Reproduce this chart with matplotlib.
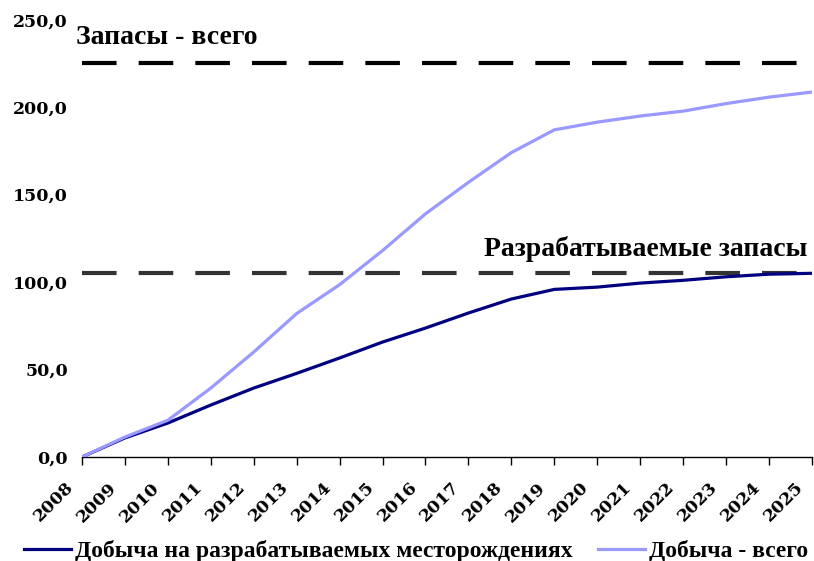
import matplotlib
matplotlib.use("Agg")
from matplotlib import pyplot as plt
from matplotlib.transforms import ScaledTranslation

years = list(range(2008, 2026))
developed = [0, 10.9, 19.4, 29.7, 39.4, 47.8, 56.6, 65.7, 73.7, 82.3, 90.3,
             95.8, 97.1, 99.4, 101.0, 103.0, 104.5, 105.0]
total = [0, 11.4, 21.0, 39.4, 60.0, 82.0, 98.5, 118.0, 139.0, 157.0, 174.0,
         187.0, 191.4, 194.9, 197.7, 202.0, 205.7, 208.6]
reserves_total = 225
reserves_developed = 105
ytick_vals = [0, 50, 100, 150, 200, 250]

fig = plt.figure(figsize=(8.14, 5.61), dpi=100)
ax = fig.add_axes([0.1007, 0.1854, 0.8968, 0.7796])

ax.plot(years, developed, color="#000080", linewidth=2.3, zorder=3,
        label="Добыча на разрабатываемых месторождениях")
ax.plot(years, total, color="#9999ff", linewidth=2.3, zorder=3,
        label="Добыча - всего")

ax.plot([years[0], years[-1]], [reserves_total] * 2, color="black",
        linewidth=3, dashes=(8.3, 5.3), zorder=2)
ax.plot([years[0], years[-1]], [reserves_developed] * 2, color="#333333",
        linewidth=3, dashes=(8.3, 5.3), zorder=2)

ax.text(2007.85, 240, "Запасы - всего", family="Liberation Serif",
        fontweight="bold", fontsize=20, ha="left", va="center")
ax.text(2024.9, 119, "Разрабатываемые запасы", family="Liberation Serif",
        fontweight="bold", fontsize=20, ha="right", va="center")

ax.set_xlim(2008, 2025)
ax.set_ylim(0, 250)
ax.set_xticks(years)
ax.set_xticklabels([])
# rotated year labels, placed below-left of each tick
lbl_tr = ax.get_xaxis_transform() + ScaledTranslation(-11 / 100, -28 / 100,
                                                      fig.dpi_scale_trans)
for y in years:
    ax.text(y, 0, str(y), transform=lbl_tr, rotation=45, ha="right",
            va="center", rotation_mode="anchor", family="DejaVu Serif",
            fontweight="bold", fontsize=12.5, clip_on=False)

ax.set_yticks(ytick_vals)
ax.set_yticklabels([f"{v},0" for v in ytick_vals], family="DejaVu Serif",
                   fontweight="bold", fontsize=12.5)
ax.tick_params(axis="y", length=0, pad=10)
ax.tick_params(axis="x", direction="out", length=6, width=1)
for s in ["top", "right", "left"]:
    ax.spines[s].set_visible(False)
ax.spines["bottom"].set_linewidth(1)

fig.legend(loc="lower center", bbox_to_anchor=(0.511, -0.04), ncol=2,
           frameon=False, handlelength=2, columnspacing=1.1, handletextpad=0.15,
           prop={"family": "Liberation Serif", "weight": "bold", "size": 17})

fig.savefig("out.png", dpi=100)
